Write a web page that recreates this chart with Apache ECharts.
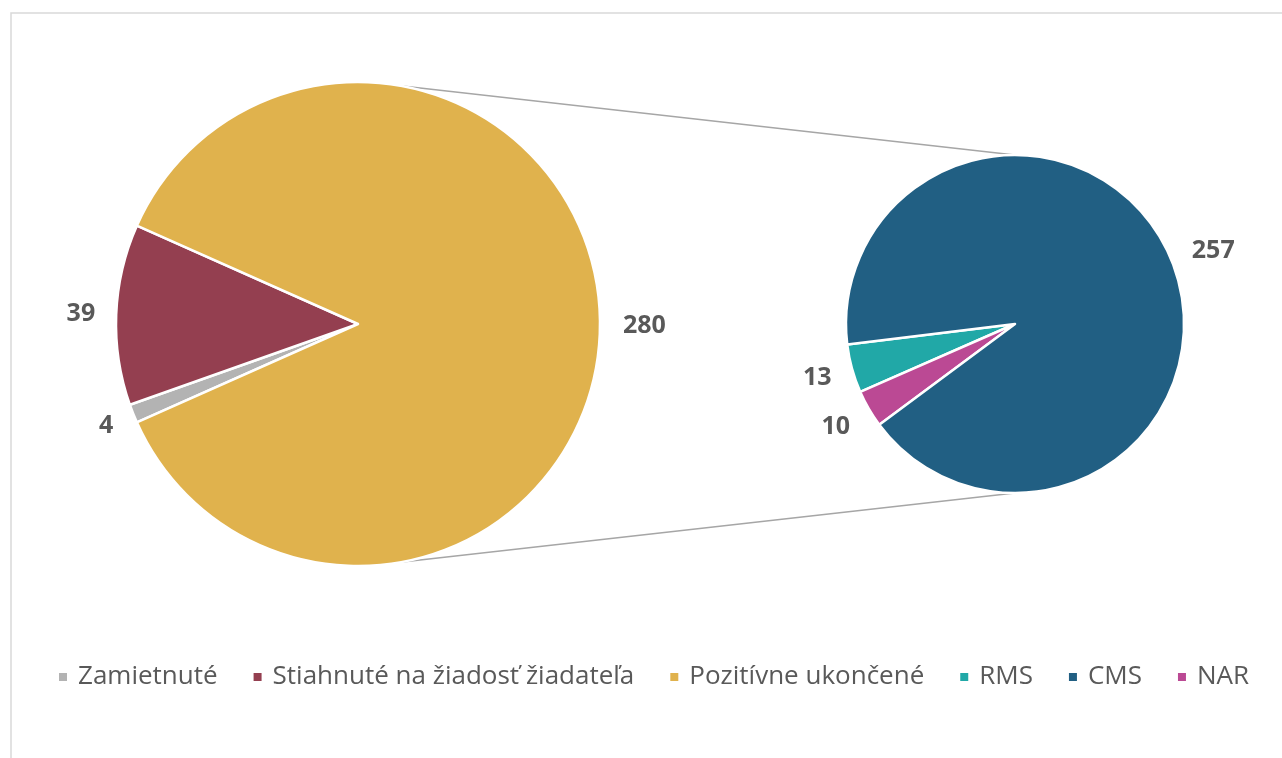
<!DOCTYPE html>
<html>
<head>
<meta charset="utf-8">
<script src="https://cdn.jsdelivr.net/npm/echarts@6/dist/echarts.min.js"></script>
<style>
  html, body { margin: 0; padding: 0; background: #ffffff; }
  #chart { width: 1282px; height: 758px; }
</style>
</head>
<body>
<div id="chart"></div>
<script>
// Main pie: outcome of all requests
const mainNames = ['Zamietnuté', 'Stiahnuté na žiadosť žiadateľa', 'Pozitívne ukončené'];
const mainValues = [4, 39, 280];
const mainColors = ['#b3b3b3', '#943f50', '#e0b24d'];

// Secondary pie: breakdown of "Pozitívne ukončené"
const subNames = ['RMS', 'NAR', 'CMS'];
const subValues = [13, 10, 257];
const subColors = ['#21a8a7', '#bb4994', '#215f83'];

// Legend order
const legendOrder = ['Zamietnuté', 'Stiahnuté na žiadosť žiadateľa', 'Pozitívne ukončené', 'RMS', 'CMS', 'NAR'];

// Layout of the two pies
const leftCenter = [358, 324];
const leftRadius = 242;
const rightCenter = [1015, 324];
const rightRadius = 169;
const rightStart = 187;

// Small nudges for the value labels of the lower-left slices
const labelNudge = { 'Zamietnuté': [0, 6], 'RMS': [0, 5], 'NAR': [0, 10], 'Pozitívne ukončené': [2, 2], 'CMS': [0, -4] };

// Rotate the main pie so the small slices sit centred on the left side
const mainTotal = mainValues.reduce((a, b) => a + b, 0);
const smallSum = mainValues.slice(0, 2).reduce((a, b) => a + b, 0);
const mainStart = 180 + (smallSum / mainTotal) * 180;

// Connector lines between the two pies
const connAngle = 80 * Math.PI / 180;
const topLine = {
  x1: leftCenter[0] + leftRadius * Math.cos(connAngle),
  y1: leftCenter[1] - leftRadius * Math.sin(connAngle),
  x2: rightCenter[0], y2: rightCenter[1] - rightRadius
};
const botLine = {
  x1: leftCenter[0] + leftRadius * Math.cos(connAngle),
  y1: leftCenter[1] + leftRadius * Math.sin(connAngle),
  x2: rightCenter[0], y2: rightCenter[1] + rightRadius
};

const labelStyle = {
  show: true,
  position: 'outside',
  formatter: '{c}',
  fontSize: 25,
  fontWeight: 'bold',
  color: '#595959',
  fontFamily: '"Open Sans", Lato, sans-serif'
};

function pieData(names, values, colors) {
  return names.map((n, i) => ({
    name: n,
    value: values[i],
    itemStyle: { color: colors[i] },
    label: labelNudge[n] ? { offset: labelNudge[n] } : undefined
  }));
}

const chart = echarts.init(document.getElementById('chart'), null, { renderer: 'canvas' });
chart.setOption({
  animation: false,
  backgroundColor: '#ffffff',
  legend: {
    data: legendOrder,
    bottom: 63,
    left: 52,
    icon: 'rect',
    itemWidth: 10,
    itemHeight: 10,
    itemGap: 34,
    textStyle: {
      fontSize: 26,
      color: '#595959',
      padding: [0, 0, 0, 5],
      fontFamily: '"Open Sans", Lato, sans-serif'
    }
  },
  graphic: [
    {
      type: 'rect',
      silent: true,
      shape: { x: 11, y: 13, width: 1400, height: 900 },
      style: { fill: 'none', stroke: '#d9d9d9', lineWidth: 1.5 }
    },
    {
      type: 'line',
      silent: true,
      shape: topLine,
      style: { stroke: '#a6a6a6', lineWidth: 1.5 }
    },
    {
      type: 'line',
      silent: true,
      shape: botLine,
      style: { stroke: '#a6a6a6', lineWidth: 1.5 }
    }
  ],
  series: [
    {
      name: 'Vybavenie žiadostí',
      type: 'pie',
      center: leftCenter,
      radius: [0, leftRadius],
      startAngle: mainStart,
      clockwise: true,
      avoidLabelOverlap: false,
      label: labelStyle,
      labelLine: { show: false, length: 16, length2: 0 },
      itemStyle: { borderColor: '#ffffff', borderWidth: 2.5 },
      emphasis: { disabled: true },
      data: pieData(mainNames, mainValues, mainColors)
    },
    {
      name: 'Rozdelenie',
      type: 'pie',
      center: rightCenter,
      radius: [0, rightRadius],
      startAngle: rightStart,
      clockwise: false,
      avoidLabelOverlap: false,
      label: labelStyle,
      labelLine: { show: false, length: 16, length2: 0 },
      itemStyle: { borderColor: '#ffffff', borderWidth: 2.5 },
      emphasis: { disabled: true },
      data: pieData(subNames, subValues, subColors)
    }
  ]
});
</script>
</body>
</html>
